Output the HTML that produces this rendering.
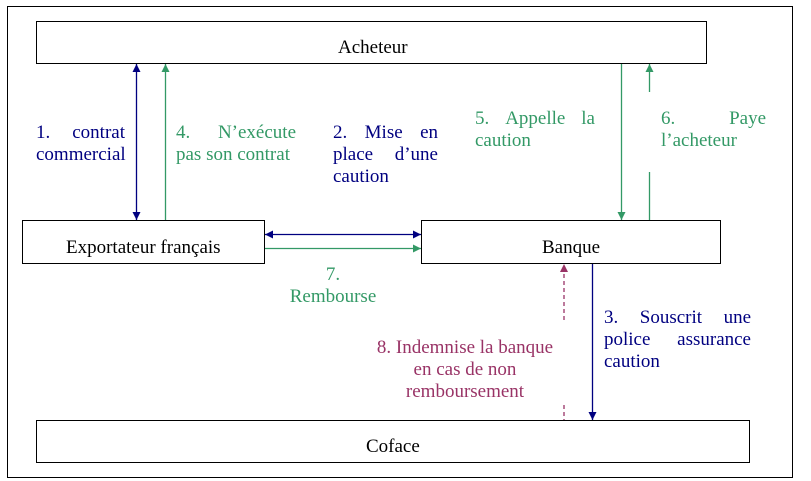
<!DOCTYPE html>
<html><head><meta charset="utf-8">
<style>
html,body{margin:0;padding:0;background:#fff;}
body{width:811px;height:481px;position:relative;overflow:hidden;font-family:"Liberation Serif",serif;font-size:19px;}
.box{position:absolute;border:1px solid #000;box-sizing:border-box;background:#fff;}
.lbl{position:absolute;line-height:22px;white-space:nowrap;}
.ln{display:flex;justify-content:space-between;height:22px;}
.ln.l{justify-content:flex-start;}
.ln.c{justify-content:center;}
.b{color:#000080}.g{color:#339966}.p{color:#993366}
</style></head><body>
<div class="box" style="left:7px;top:6px;width:786px;height:472px;"></div>
<div class="box" style="left:36px;top:21px;width:671px;height:43px;"></div>
<div class="box" style="left:22px;top:220px;width:243px;height:44px;"></div>
<div class="box" style="left:421px;top:220px;width:300px;height:44px;"></div>
<div class="box" style="left:36px;top:420px;width:714px;height:43px;"></div>
<div class="lbl" style="left:338px;top:37px;">Acheteur</div>
<div class="lbl" style="left:66px;top:237px;">Exportateur français</div>
<div class="lbl" style="left:542px;top:237px;">Banque</div>
<div class="lbl" style="left:366px;top:436px;">Coface</div>

<svg width="811" height="481" style="position:absolute;left:0;top:0" xmlns="http://www.w3.org/2000/svg">
<defs>
<marker id="ab" markerWidth="8" markerHeight="8" refX="8" refY="4" orient="auto" markerUnits="userSpaceOnUse"><path d="M0,0L8,4L0,8z" fill="#000080"/></marker>
<marker id="ag" markerWidth="8" markerHeight="8" refX="8" refY="4" orient="auto" markerUnits="userSpaceOnUse"><path d="M0,0L8,4L0,8z" fill="#339966"/></marker>
<marker id="ap" markerWidth="8" markerHeight="8" refX="8" refY="4" orient="auto" markerUnits="userSpaceOnUse"><path d="M0,0L8,4L0,8z" fill="#993366"/></marker>
<marker id="abs" markerWidth="8" markerHeight="8" refX="0" refY="4" orient="auto" markerUnits="userSpaceOnUse"><path d="M8,0L0,4L8,8z" fill="#000080"/></marker>
</defs>
<line x1="136.5" y1="64" x2="136.5" y2="220" stroke="#000080" stroke-width="1.3" marker-start="url(#abs)" marker-end="url(#ab)"/>
<line x1="165.5" y1="220" x2="165.5" y2="64" stroke="#339966" stroke-width="1.3" marker-end="url(#ag)"/>
<line x1="265" y1="234.5" x2="421" y2="234.5" stroke="#000080" stroke-width="1.3" marker-start="url(#abs)" marker-end="url(#ab)"/>
<line x1="265" y1="248.5" x2="421" y2="248.5" stroke="#339966" stroke-width="1.3" marker-end="url(#ag)"/>
<line x1="621.5" y1="64" x2="621.5" y2="220" stroke="#339966" stroke-width="1.3" marker-end="url(#ag)"/>
<line x1="649.5" y1="220" x2="649.5" y2="172" stroke="#339966" stroke-width="1.3"/>
<line x1="649.5" y1="92" x2="649.5" y2="64" stroke="#339966" stroke-width="1.3" marker-end="url(#ag)"/>
<line x1="592.5" y1="264" x2="592.5" y2="420" stroke="#000080" stroke-width="1.3" marker-end="url(#ab)"/>
<line x1="564" y1="320" x2="564" y2="264" stroke="#993366" stroke-width="1.3" stroke-dasharray="4,3" marker-end="url(#ap)"/>
<line x1="564" y1="405" x2="564" y2="420" stroke="#993366" stroke-width="1.3" stroke-dasharray="4,3"/>
</svg>

<div class="lbl b" style="left:36px;top:122px;width:89px;">
<div class="ln"><span>1.</span><span>contrat</span></div>
<div class="ln l"><span>commercial</span></div></div>

<div class="lbl g" style="left:176px;top:122px;width:120px;">
<div class="ln"><span>4.</span><span>N’exécute</span></div>
<div class="ln l"><span>pas son contrat</span></div></div>

<div class="lbl b" style="left:333px;top:122px;width:105px;">
<div class="ln"><span>2.</span><span>Mise</span><span>en</span></div>
<div class="ln"><span>place</span><span>d’une</span></div>
<div class="ln l"><span>caution</span></div></div>

<div class="lbl g" style="left:475px;top:108px;width:120px;">
<div class="ln"><span>5.</span><span>Appelle</span><span>la</span></div>
<div class="ln l"><span>caution</span></div></div>

<div class="lbl g" style="left:661px;top:108px;width:105px;">
<div class="ln"><span>6.</span><span>Paye</span></div>
<div class="ln l"><span>l’acheteur</span></div></div>

<div class="lbl g" style="left:273px;top:264px;width:120px;">
<div class="ln c"><span>7.</span></div>
<div class="ln c"><span>Rembourse</span></div></div>

<div class="lbl b" style="left:604px;top:307px;width:147px;">
<div class="ln"><span>3.</span><span>Souscrit</span><span>une</span></div>
<div class="ln"><span>police</span><span>assurance</span></div>
<div class="ln l"><span>caution</span></div></div>

<div class="lbl p" style="left:355px;top:337px;width:220px;">
<div class="ln c"><span>8. Indemnise la banque</span></div>
<div class="ln c"><span>en cas de non</span></div>
<div class="ln c"><span>remboursement</span></div></div>
</body></html>
